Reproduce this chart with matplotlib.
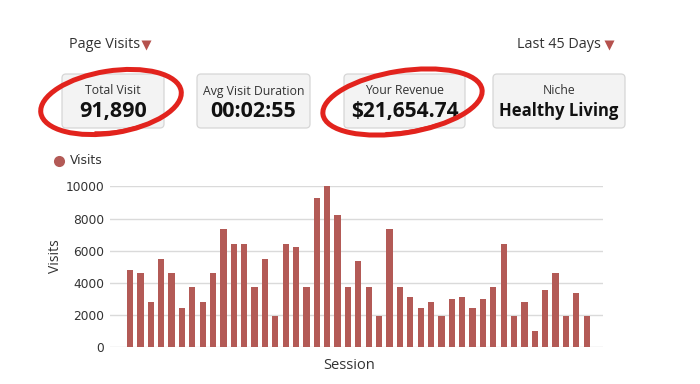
import matplotlib.pyplot as plt
from matplotlib.patches import FancyBboxPatch, Ellipse, Arc

# daily visits over the last 45 days
visits = [4830, 4620, 2840, 5500, 4620, 2460, 3730, 2840, 4620, 7340,
          6430, 6430, 3730, 5500, 1930, 6430, 6200, 3730, 9300, 10000,
          8200, 3730, 5330, 3730, 1930, 7340, 3730, 3150, 2430, 2840,
          1930, 2980, 3150, 2430, 2980, 3730, 6430, 1930, 2840, 1010,
          3550, 4620, 1930, 3400, 1930]
sessions = list(range(len(visits)))
yticks = [0, 2000, 4000, 6000, 8000, 10000]

card_titles = ['Total Visit', 'Avg Visit Duration', 'Your Revenue', 'Niche']
card_values = ['91,890', '00:02:55', '$21,654.74', 'Healthy Living']
card_value_sizes = [15.5, 15.5, 15, 12]
circled = [True, False, True, False]

bar_color = '#b35a56'
red = '#e2231d'

fig = plt.figure(figsize=(7, 3.84), dpi=100)

# overlay in pixel coords for the dashboard header
ov = fig.add_axes([0, 0, 1, 1])
ov.set_xlim(0, 700)
ov.set_ylim(384, 0)
ov.axis('off')

ov.text(69, 45, 'Page Visits', fontsize=10.4, family='Open Sans', color='#333333', va='center')
ov.plot([145.5], [45], marker='v', ms=7, color='#b5514d', mec='none')
ov.text(517, 45, 'Last 45 Days', fontsize=10.4, family='Open Sans', color='#333333', va='center')
ov.plot([609], [45], marker='v', ms=7, color='#b5514d', mec='none')

cards = [(62, 164), (197, 310), (344, 465), (493, 625)]
for (x0, x1), title, value, vs, circ in zip(cards, card_titles, card_values,
                                            card_value_sizes, circled):
    box = FancyBboxPatch((x0, 74), x1 - x0, 54, boxstyle='round,pad=0,rounding_size=4',
                         fc='#f3f3f3', ec='#d6d6d6', lw=0.9)
    ov.add_patch(box)
    cx = (x0 + x1) / 2
    ov.text(cx, 91, title, fontsize=8.8, family='Open Sans', color='#333333',
            ha='center', va='center')
    ov.text(cx, 111.5, value, fontsize=vs, family='Open Sans', weight='bold',
            color='#111111', ha='center', va='center')
    if circ:
        w = x1 - x0 + 40
        ov.add_patch(Ellipse((cx - 2, 102), w, 62, angle=-9, fill=False,
                             ec=red, lw=3.6, zorder=5))
        ov.add_patch(Arc((cx + 5, 98), w - 4, 66, angle=-11, theta1=55, theta2=135,
                         ec=red, lw=2.4, zorder=5))

# legend
ov.plot([59], [160.7], marker='o', ms=8, color=bar_color, mec='none')
ov.text(70, 160.7, 'Visits', fontsize=8.8, color='#333333', va='center')

# chart
ax = fig.add_axes([110 / 700, (384 - 347.3) / 384, 493 / 700, 161 / 384])
ax.bar(sessions, visits, width=0.6, color=bar_color, zorder=3)
ax.set_xlim(-1.93, 45.57)
ax.set_ylim(0, 10000)
ax.set_yticks(yticks)
ax.set_xticks([])
ax.grid(axis='y', color='#dadada', lw=1)
for s in ax.spines.values():
    s.set_visible(False)
ax.tick_params(axis='y', length=0, pad=4, labelsize=8.8, labelcolor='#333333')
ax.set_ylabel('Visits', family='Open Sans', fontsize=10, color='#333333')
ax.yaxis.set_label_coords(-0.11, 0.567)
ax.set_xlabel('Session', family='Open Sans', fontsize=10.5, color='#333333')
ax.xaxis.set_label_coords(0.486, -0.114)
ax.xaxis.label.set_va('center')
ax.yaxis.label.set_va('center')
ax.patch.set_alpha(0)

fig.savefig('out.png', dpi=100)
